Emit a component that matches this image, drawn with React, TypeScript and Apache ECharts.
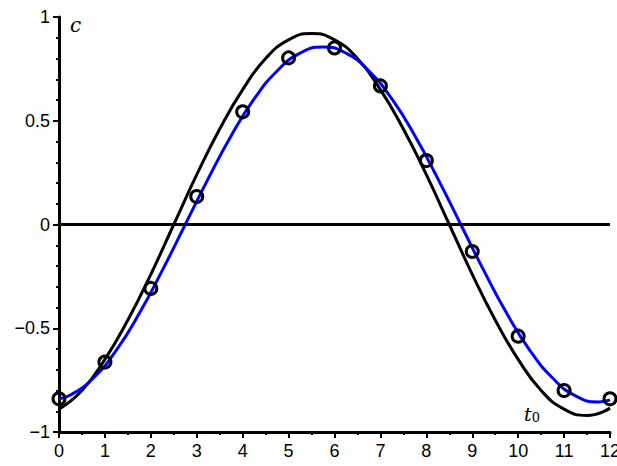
import React, { useEffect, useRef } from "react";
import * as echarts from "echarts";

// black curve: sample times and values
const blackT = [0, 0.5, 1, 1.5, 2, 2.5, 3, 3.5, 4, 4.5, 5, 5.5, 6, 6.5, 7, 7.5, 8, 8.5, 9, 9.5, 10, 10.5, 11, 11.5, 12];
const blackC = [-0.89, -0.8, -0.65, -0.46, -0.24, 0.0, 0.24, 0.46, 0.65, 0.8, 0.89, 0.92, 0.89, 0.8, 0.65, 0.46, 0.24, 0.0, -0.24, -0.46, -0.65, -0.8, -0.89, -0.92, -0.885];
// blue curve: sample times and values
const blueT = [0, 0.25, 0.75, 1.25, 1.75, 2.25, 2.75, 3.25, 3.75, 4.25, 4.75, 5.25, 5.75, 6.25, 6.75, 7.25, 7.75, 8.25, 8.75, 9.25, 9.75, 10.25, 10.75, 11.25, 11.75, 12];
const blueC = [-0.84, -0.822, -0.74, -0.605, -0.428, -0.221, 0.0, 0.221, 0.428, 0.605, 0.74, 0.826, 0.855, 0.826, 0.74, 0.605, 0.428, 0.221, 0.0, -0.221, -0.428, -0.605, -0.74, -0.826, -0.855, -0.845];
// observed points
const pointT = [0, 1, 2, 3, 4, 5, 6, 7, 8, 9, 10, 11, 12];
const pointC = [-0.84, -0.663, -0.308, 0.135, 0.543, 0.803, 0.851, 0.668, 0.308, -0.13, -0.538, -0.8, -0.84];

const xTicks = { min: 0, max: 12, interval: 1 };
const yTicks = { min: -1, max: 1, interval: 0.5 };

export default function App() {
  const ref = useRef<HTMLDivElement>(null);
  useEffect(() => {
    if (!ref.current) return;
    const chart = echarts.init(ref.current, null, { renderer: "svg" });
    const labelFont = { fontFamily: "Liberation Sans", fontSize: 18, color: "#000" };
    const fmt = (v: number) => String(v).replace("-", "\u2212");
    chart.setOption({
      animation: false,
      grid: { left: 59, right: 7, top: 17, bottom: 34, containLabel: false, outerBoundsMode: "none" },
      xAxis: {
        type: "value",
        min: xTicks.min,
        max: xTicks.max,
        interval: xTicks.interval,
        axisLine: { show: true, onZero: false, lineStyle: { color: "#000", width: 3 } },
        axisTick: { show: true, length: 6, lineStyle: { color: "#000", width: 2 } },
        minorTick: { show: true, splitNumber: 2, length: 3, lineStyle: { color: "#000", width: 2 } },
        splitLine: { show: false },
        axisLabel: { ...labelFont, margin: 10, formatter: fmt, hideOverlap: false },
      },
      yAxis: {
        type: "value",
        min: yTicks.min,
        max: yTicks.max,
        interval: yTicks.interval,
        axisLine: { show: true, onZero: false, lineStyle: { color: "#000", width: 3 } },
        axisTick: { show: true, length: 6, lineStyle: { color: "#000", width: 2 } },
        minorTick: { show: true, splitNumber: 5, length: 3, lineStyle: { color: "#000", width: 2 } },
        splitLine: { show: false },
        axisLabel: { ...labelFont, margin: 9, formatter: fmt },
      },
      graphic: [
        {
          type: "text",
          left: 70,
          top: 15,
          style: { text: "c", font: "italic 20px 'DejaVu Serif'", fill: "#000" },
        },
        {
          type: "text",
          left: 524,
          top: 404,
          style: {
            text: "{t|t}{s|0}",
            rich: {
              t: { font: "italic 19px 'DejaVu Serif'", fill: "#000" },
              s: { font: "13px 'DejaVu Serif'", fill: "#000", padding: [8, 0, 0, 0] },
            },
          },
        },
      ],
      series: [
        {
          type: "line",
          data: [],
          markLine: {
            silent: true,
            symbol: "none",
            label: { show: false },
            lineStyle: { color: "#000", width: 3, type: "solid" },
            data: [{ yAxis: 0 }],
          },
        },
        {
          type: "line",
          smooth: true,
          showSymbol: false,
          data: blackT.map((t, i) => [t, blackC[i]]),
          lineStyle: { color: "#000", width: 3 },
          z: 3,
        },
        {
          type: "line",
          smooth: true,
          showSymbol: false,
          data: blueT.map((t, i) => [t, blueC[i]]),
          lineStyle: { color: "#0000ff", width: 3 },
          z: 4,
        },
        {
          type: "scatter",
          symbol: "circle",
          symbolSize: 12,
          data: pointT.map((t, i) => [t, pointC[i]]),
          itemStyle: { color: "none", borderColor: "#000", borderWidth: 3, opacity: 1 },
          z: 5,
        },
      ],
    });
    return () => chart.dispose();
  }, []);
  return <div ref={ref} style={{ position: "absolute", left: 0, top: 0, width: 617, height: 466 }} />;
}
